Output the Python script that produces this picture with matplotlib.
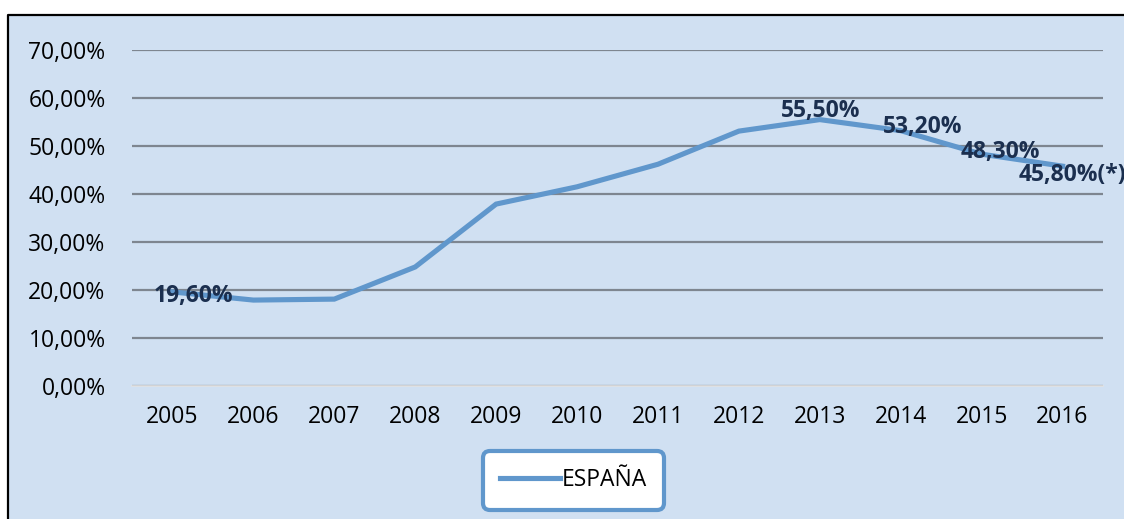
import matplotlib
matplotlib.use("Agg")
import matplotlib.pyplot as plt
from matplotlib.patches import Rectangle
from matplotlib.lines import Line2D
from matplotlib.ticker import FuncFormatter

# data
years = ["2005", "2006", "2007", "2008", "2009", "2010",
         "2011", "2012", "2013", "2014", "2015", "2016"]
espana = [0.196, 0.179, 0.181, 0.248, 0.379, 0.415,
          0.462, 0.531, 0.555, 0.532, 0.483, 0.458]
# labelled points: index, text
label_idx = [0, 8, 9, 10, 11]
label_txt = ["19,60%", "55,50%", "53,20%", "48,30%", "45,80%(*)"]

LINE_C = "#6097CC"
BG_C = "#D0E0F2"
TXT_C = "#1B2F4F"

plt.rcParams["font.family"] = ["Open Sans", "DejaVu Sans"]

fig = plt.figure(figsize=(11.24, 5.19), dpi=100)
fig.patch.set_facecolor("white")

# chart area background, border only on left/top (rest runs off the image)
x0 = 8 / 1124
y1 = 1 - 15 / 519
fig.patches.append(Rectangle((x0, 0), 1 - x0, y1, transform=fig.transFigure,
                             facecolor=BG_C, edgecolor="none", zorder=-2))
fig.lines.append(Line2D([x0, x0, 1], [0, y1, y1], transform=fig.transFigure,
                        color="black", linewidth=1.6, zorder=-1))

ax = fig.add_axes([132 / 1124, 1 - 386 / 519, (1103 - 132) / 1124, (386 - 50) / 519])
ax.set_facecolor("none")

x = list(range(len(years)))
ax.plot(x, espana, color=LINE_C, linewidth=3.7, solid_joinstyle="miter",
        label="ESPAÑA", zorder=3)

ax.set_xlim(-0.5, len(years) - 0.5)
ax.set_ylim(0, 0.7)
ax.set_yticks([i / 10 for i in range(8)])
ax.yaxis.set_major_formatter(FuncFormatter(lambda v, p: f"{v * 100:.2f}%".replace(".", ",")))
ax.set_xticks(x)
ax.set_xticklabels(years)

ax.grid(axis="y", color="#7E8690", linewidth=1.6)
ax.set_axisbelow(True)
for s in ["top", "right", "left"]:
    ax.spines[s].set_visible(False)
ax.spines["bottom"].set_color("#E2E2E2")
ax.spines["bottom"].set_linewidth(1.2)
ax.tick_params(axis="both", length=0, labelsize=16.5, colors="black")
ax.tick_params(axis="y", pad=19)
ax.tick_params(axis="x", pad=14)

# data labels
offsets = [(14.8, -2.9, "center"), (0.7, 6.5, "center"), (15.6, 2.6, "center"),
           (13.3, 1.8, "center"), (-31.3, -6.1, "left")]
for i, t, (dx, dy, ha) in zip(label_idx, label_txt, offsets):
    ax.annotate(t, (x[i], espana[i]), xytext=(dx, dy), textcoords="offset points",
                ha=ha, va="center", fontsize=16.5, fontweight="bold",
                color=TXT_C, annotation_clip=False, zorder=4)

leg = ax.legend(loc="center", bbox_to_anchor=(573.5 / 1124, 1 - 480.5 / 519),
                bbox_transform=fig.transFigure, fontsize=16.5, frameon=True,
                fancybox=True, handlelength=2.6, handletextpad=0.1,
                borderpad=0.55, borderaxespad=0)
leg.get_frame().set_edgecolor(LINE_C)
leg.get_frame().set_linewidth(3)
leg.get_frame().set_facecolor("white")
leg.get_frame().set_alpha(1)
leg.get_frame().set_boxstyle("round,pad=0.2,rounding_size=0.3")

fig.savefig("out.png", dpi=100)
